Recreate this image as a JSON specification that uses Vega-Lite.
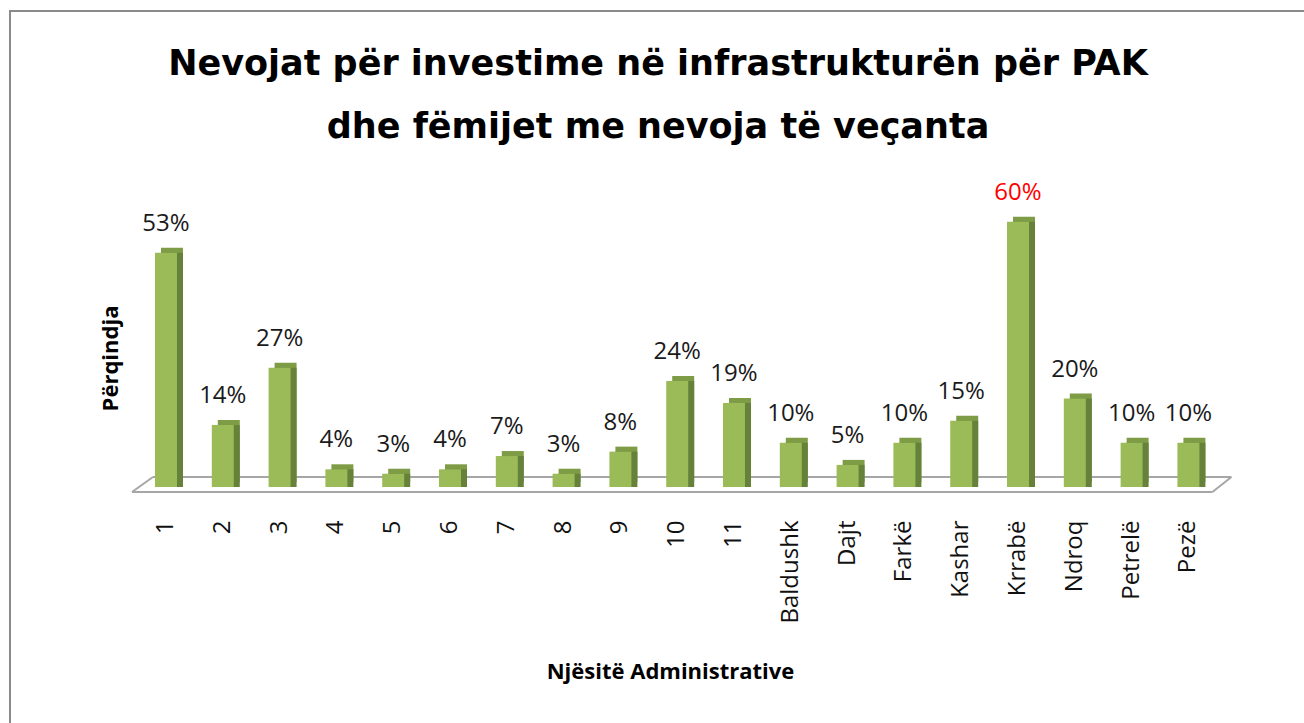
{
  "$schema": "https://vega.github.io/schema/vega-lite/v6.json",
  "width": 1296,
  "height": 714,
  "autosize": {"type": "none"},
  "padding": {"left": 10, "top": 11, "right": -2, "bottom": -2},
  "background": "white",
  "config": {"view": {"stroke": "#8a8a8a", "strokeWidth": 2}, "font": "Open Sans"},
  "title": {
    "text": ["Nevojat për investime në infrastrukturën për PAK", "dhe fëmijet me nevoja të veçanta"],
    "font": "DejaVu Sans",
    "fontSize": 35,
    "fontWeight": "bold",
    "color": "#000000",
    "anchor": "middle",
    "frame": "group",
    "baseline": "alphabetic",
    "offset": -64,
    "dy": 98,
    "lineHeight": 63
  },
  "data": {
    "values": [
      {"njesia": "1", "perqindja": 0.53},
      {"njesia": "2", "perqindja": 0.14},
      {"njesia": "3", "perqindja": 0.27},
      {"njesia": "4", "perqindja": 0.04},
      {"njesia": "5", "perqindja": 0.03},
      {"njesia": "6", "perqindja": 0.04},
      {"njesia": "7", "perqindja": 0.07},
      {"njesia": "8", "perqindja": 0.03},
      {"njesia": "9", "perqindja": 0.08},
      {"njesia": "10", "perqindja": 0.24},
      {"njesia": "11", "perqindja": 0.19},
      {"njesia": "Baldushk", "perqindja": 0.10},
      {"njesia": "Dajt", "perqindja": 0.05},
      {"njesia": "Farkë", "perqindja": 0.10},
      {"njesia": "Kashar", "perqindja": 0.15},
      {"njesia": "Krrabë", "perqindja": 0.60},
      {"njesia": "Ndroq", "perqindja": 0.20},
      {"njesia": "Petrelë", "perqindja": 0.10},
      {"njesia": "Pezë", "perqindja": 0.10}
    ]
  },
  "encoding": {
    "x": {
      "field": "njesia",
      "type": "nominal",
      "sort": null,
      "scale": {
        "domain": ["1", "2", "3", "4", "5", "6", "7", "8", "9", "10", "11", "Baldushk", "Dajt", "Farkë", "Kashar", "Krrabë", "Ndroq", "Petrelë", "Pezë"],
        "range": [116.6, 1217.8],
        "paddingInner": 0.613,
        "paddingOuter": 0.5,
        "align": 0.5
      },
      "axis": {
        "orient": "bottom",
        "offset": -205,
        "domain": false,
        "ticks": false,
        "grid": false,
        "labelAngle": -90,
        "labelPadding": 0,
        "labelFont": "Open Sans",
        "labelFontSize": 24,
        "labelColor": "#111111",
        "title": "Njësitë Administrative",
        "titleFont": "Open Sans",
        "titleFontSize": 22,
        "titleFontWeight": "bold",
        "titleColor": "#000000",
        "titleX": 660,
        "titleY": 158,
        "titleAlign": "center",
        "titleBaseline": "alphabetic"
      }
    },
    "y": {
      "field": "perqindja",
      "type": "quantitative",
      "scale": {"domain": [-0.5385, 1.0769], "nice": false, "zero": false},
      "axis": {
        "domain": false,
        "ticks": false,
        "labels": false,
        "grid": false,
        "title": "Përqindja",
        "titleFont": "Open Sans",
        "titleFontSize": 22,
        "titleFontWeight": "bold",
        "titleColor": "#000000",
        "titleX": 107,
        "titleY": 347,
        "titleAngle": -90,
        "titleAlign": "center",
        "titleBaseline": "alphabetic"
      }
    }
  },
  "layer": [
    {
      "transform": [{"filter": "datum.njesia === '1'"}],
      "mark": {"type": "rule", "color": "#a6a6a6", "strokeWidth": 2, "xOffset": -13, "x2Offset": 43},
      "encoding": {"x": {"field": "njesia", "type": "nominal"}, "x2": {"datum": "Pezë"}, "y": {"datum": 0.0226}}
    },
    {
      "transform": [{"filter": "datum.njesia === '1'"}],
      "mark": {"type": "rule", "color": "#a6a6a6", "strokeWidth": 2, "xOffset": -34, "x2Offset": 24},
      "encoding": {"x": {"field": "njesia", "type": "nominal"}, "x2": {"datum": "Pezë"}, "y": {"datum": -0.0113}}
    },
    {
      "transform": [{"filter": "datum.njesia === '1'"}],
      "mark": {"type": "rule", "color": "#a6a6a6", "strokeWidth": 2, "xOffset": -34, "x2Offset": -13},
      "encoding": {"x": {"field": "njesia", "type": "nominal"}, "x2": {"datum": "1"}, "y": {"datum": -0.0113}, "y2": {"datum": 0.0226}}
    },
    {
      "transform": [{"filter": "datum.njesia === 'Pezë'"}],
      "mark": {"type": "rule", "color": "#a6a6a6", "strokeWidth": 2, "xOffset": 24, "x2Offset": 43},
      "encoding": {"x": {"field": "njesia", "type": "nominal"}, "x2": {"datum": "Pezë"}, "y": {"datum": -0.0113}, "y2": {"datum": 0.0226}}
    },
    {
      "mark": {"type": "bar", "color": "#7d9c45", "xOffset": 6, "yOffset": -5}
    },
    {
      "mark": {"type": "bar", "color": "#66823a", "xOffset": 6}
    },
    {
      "mark": {"type": "bar", "color": "#9bbb59"}
    },
    {
      "mark": {"type": "text", "baseline": "alphabetic", "dy": -22, "fontSize": 24, "font": "Open Sans"},
      "encoding": {
        "text": {"field": "perqindja", "type": "quantitative", "format": ".0%"},
        "color": {
          "condition": {"test": "datum.njesia === 'Krrabë'", "value": "#ff0000"},
          "value": "#1a1a1a"
        }
      }
    }
  ]
}
